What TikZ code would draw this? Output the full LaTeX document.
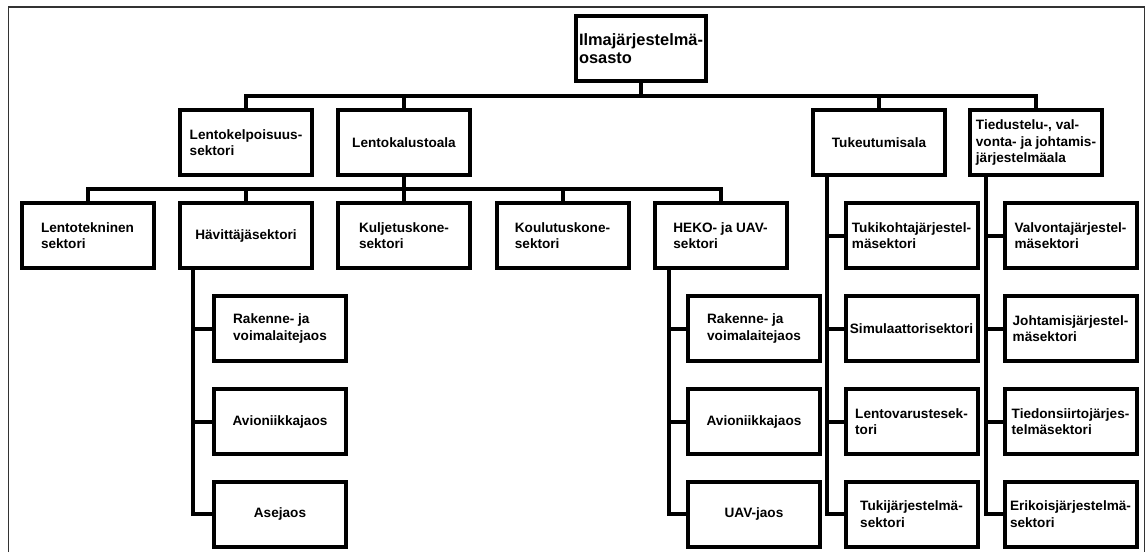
\documentclass[tikz,border=0pt]{standalone}
\usepackage{fontspec}
\setmainfont{Liberation Sans}
\begin{document}
\begin{tikzpicture}[x=1pt,y=-1pt,
  unit/.style={draw, line width=4pt, rectangle, minimum width=132pt, minimum height=65pt,
    inner sep=2pt, align=left, font=\fontsize{13.6}{16.5}\selectfont\bfseries},
  headunit/.style={unit, minimum width=130pt, inner sep=1pt,
    font=\fontsize{16.4}{18.5}\selectfont\bfseries},
  link/.style={line width=4pt, line join=miter},
  frame/.style={line width=1.8pt, draw=black!80}]

\useasboundingbox (0,0) rectangle (1146,552);

% outer frame (open at the bottom)
\draw[frame] (8.5,552) -- (8.5,7) -- (1144.5,7) -- (1144.5,552);

% head of the department
\node[headunit] (top) at (641,48.5) {Ilmajärjestelmä-\\osasto};

% first level
\node[unit] (lkp)  at (246,142.5)  {Lentokelpoisuus-\\sektori};
\node[unit] (lka)  at (404,142.5)  {Lentokalustoala};
\node[unit] (tuk)  at (879,142.5)  {Tukeutumisala};
\node[unit] (tied) at (1036,142.5) {Tiedustelu-, val-\\vonta- ja johtamis-\\järjestelmäala};

% sectors under Lentokalustoala
\node[unit] (ltek) at (87.5,235.5)  {Lentotekninen\\sektori};
\node[unit] (hav)  at (246,235.5)   {Hävittäjäsektori};
\node[unit] (kulj) at (404,235.5)   {Kuljetuskone-\\sektori};
\node[unit] (koul) at (562.5,235.5) {Koulutuskone-\\sektori};
\node[unit] (heko) at (720.5,235.5) {HEKO- ja UAV-\\sektori};

% divisions of Hävittäjäsektori
\node[unit] (hav1) at (280,328.5) {Rakenne- ja\\voimalaitejaos};
\node[unit] (hav2) at (280,421.5) {Avioniikkajaos};
\node[unit] (hav3) at (280,514)   {Asejaos};

% divisions of HEKO- ja UAV-sektori
\node[unit] (heko1) at (754,328.5) {Rakenne- ja\\voimalaitejaos};
\node[unit] (heko2) at (754,421.5) {Avioniikkajaos};
\node[unit] (heko3) at (754,514)   {UAV-jaos};

% sectors of Tukeutumisala
\node[unit] (tuk1) at (911.5,235.5) {Tukikohtajärjestel-\\mäsektori};
\node[unit] (tuk2) at (911.5,328.5) {Simulaattorisektori};
\node[unit] (tuk3) at (911.5,421.5) {Lentovarustesek-\\tori};
\node[unit] (tuk4) at (911.5,514)   {Tukijärjestelmä-\\sektori};

% sectors of the surveillance and command branch
\node[unit] (tied1) at (1070.5,235.5) {Valvontajärjestel-\\mäsektori};
\node[unit] (tied2) at (1070.5,328.5) {Johtamisjärjestel-\\mäsektori};
\node[unit] (tied3) at (1070.5,421.5) {Tiedonsiirtojärjes-\\telmäsektori};
\node[unit] (tied4) at (1070.5,514)   {Erikoisjärjestelmä-\\sektori};

% bus levels and spine positions
\coordinate (bus1) at (0,96);
\coordinate (bus2) at (0,189);
\coordinate (havS)  at (193,0);
\coordinate (hekoS) at (669,0);
\coordinate (tukS)  at (827,0);
\coordinate (tiedS) at (986,0);

% top level bus
\draw[link] (lkp.north) -- (lkp.north |- bus1) -- (tied.north |- bus1) -- (tied.north);
\draw[link] (top.south) -- (top.south |- bus1);
\draw[link] (lka.north) -- (lka.north |- bus1);
\draw[link] (tuk.north) -- (tuk.north |- bus1);

% second level bus
\draw[link] (ltek.north) -- (ltek.north |- bus2) -- (heko.north |- bus2) -- (heko.north);
\draw[link] (lka.south) -- (lka.south |- bus2);
\draw[link] (hav.north) -- (hav.north |- bus2);
\draw[link] (kulj.north) -- (kulj.north |- bus2);
\draw[link] (koul.north) -- (koul.north |- bus2);

% spines
\draw[link] (hav.south -| havS) |- (hav3.west);
\draw[link] (hav1.west) -- (hav1.west -| havS);
\draw[link] (hav2.west) -- (hav2.west -| havS);

\draw[link] (heko.south -| hekoS) |- (heko3.west);
\draw[link] (heko1.west) -- (heko1.west -| hekoS);
\draw[link] (heko2.west) -- (heko2.west -| hekoS);

\draw[link] (tuk.south -| tukS) |- (tuk4.west);
\draw[link] (tuk1.west) -- (tuk1.west -| tukS);
\draw[link] (tuk2.west) -- (tuk2.west -| tukS);
\draw[link] (tuk3.west) -- (tuk3.west -| tukS);

\draw[link] (tied.south -| tiedS) |- (tied4.west);
\draw[link] (tied1.west) -- (tied1.west -| tiedS);
\draw[link] (tied2.west) -- (tied2.west -| tiedS);
\draw[link] (tied3.west) -- (tied3.west -| tiedS);
\end{tikzpicture}
\end{document}
